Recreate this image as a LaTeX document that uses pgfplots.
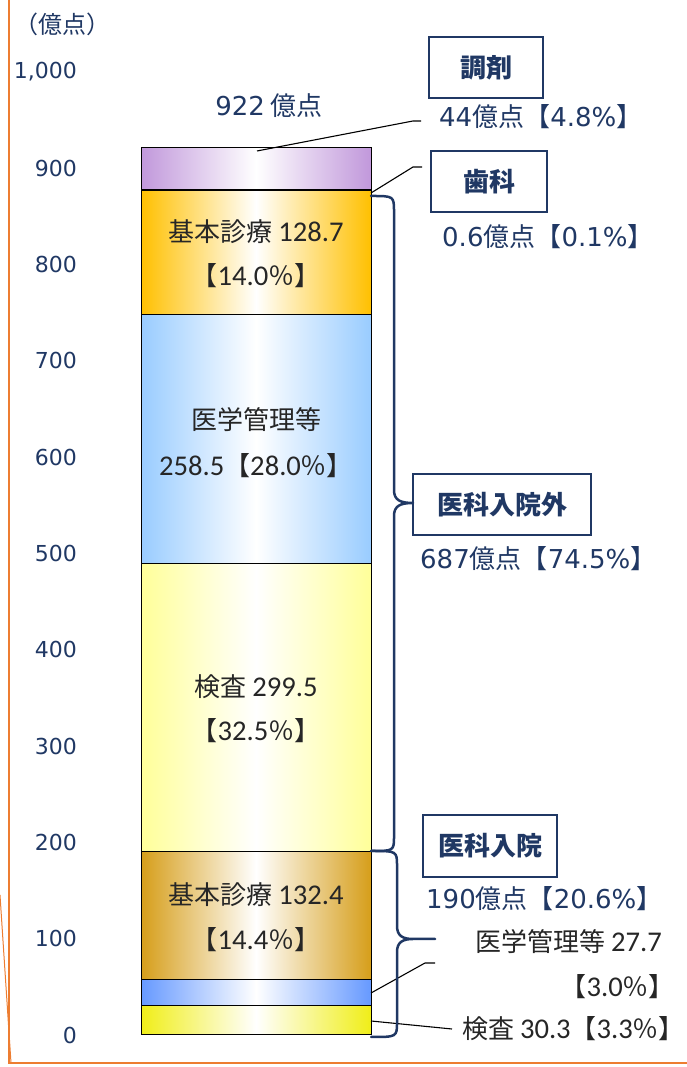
\documentclass[border=0pt]{standalone}
\usepackage{fontspec}
\setmainfont{Noto Sans CJK JP}
\newfontfamily\dv{DejaVu Sans}
\newfontfamily\cb{Carlito}[Scale=1.1]
\usepackage{pgfplots}
\pgfplotsset{compat=1.18}
\definecolor{navy}{RGB}{32,56,100}
\definecolor{frameor}{RGB}{237,125,49}
\definecolor{cPur}{RGB}{193,152,219}
\definecolor{cOrg}{RGB}{255,192,0}
\definecolor{cLBlue}{RGB}{153,204,255}
\definecolor{cLYel}{RGB}{255,255,153}
\definecolor{cBrown}{RGB}{214,158,26}
\definecolor{cBlue}{RGB}{102,153,255}
\definecolor{cYel}{RGB}{240,238,24}
\definecolor{cDent}{RGB}{146,208,80}
\definecolor{seg}{RGB}{38,38,38}
\newcommand\tfs{\fontsize{22}{26}\selectfont}
\newcommand\afs{\fontsize{26}{30}\selectfont}
\begin{document}
\begin{tikzpicture}
\useasboundingbox (0,0) rectangle (687pt,1067pt);
\begin{axis}[at={(0,0)}, anchor=south west, scale only axis,
  width=687pt, height=1067pt,
  xmin=0, xmax=687, ymin=-33.23, ymax=1074.77,
  axis line style={draw=none}, tick style={draw=none},
  xtick=\empty, ytick={0,100,...,1000},
  /pgf/number format/assume math mode=true,
  /pgf/number format/1000 sep={,},
  yticklabel style={anchor=east, xshift=77pt, inner sep=0pt, text=navy, font=\dv\tfs},
  ybar stacked, bar width=230pt, clip=false]
\addplot[left color=cYel, right color=cYel, middle color=white, draw=black, line width=1pt] coordinates {(256,30.3)};
\addplot[left color=cBlue, right color=cBlue, middle color=white, draw=black, line width=1pt] coordinates {(256,27.7)};
\addplot[left color=cBrown, right color=cBrown, middle color=white, draw=black, line width=1pt] coordinates {(256,132.4)};
\addplot[left color=cLYel, right color=cLYel, middle color=white, draw=black, line width=1pt] coordinates {(256,299.5)};
\addplot[left color=cLBlue, right color=cLBlue, middle color=white, draw=black, line width=1pt] coordinates {(256,258.5)};
\addplot[left color=cOrg, right color=cOrg, middle color=white, draw=black, line width=1pt] coordinates {(256,128.7)};
\addplot[fill=cDent, draw=black, line width=1pt] coordinates {(256,0.6)};
\addplot[left color=cPur, right color=cPur, middle color=white, draw=black, line width=1pt] coordinates {(256,44)};
\end{axis}
\begin{scope}[x=1pt, y=-1pt, shift={(0,1067pt)}]
% frame
\draw[frameor, line width=1.2pt] (9,0) -- (9,1063) -- (687,1063);
\draw[frameor, line width=1pt] (0,895) -- (11,1063);
% unit
\node[text=navy, font=\fontsize{24}{28}\selectfont] at (62,24) {（億点）};
% leaders
\draw[black, line width=1.1pt] (257,151) -- (413,121) -- (421,121);
\draw[black, line width=1.1pt] (371,193) -- (413,167) -- (422,167);
\draw[black, line width=1.1pt] (371,993) -- (425,963) -- (435,963);
\draw[black, line width=1.1pt] (371,1021) -- (452,1029);
% braces
\draw[navy, line width=2.5pt, line cap=round, line join=round]
  (371,196) .. controls (394,196) .. (394,212) -- (394,490)
  .. controls (394,500) and (400,503) .. (413,503)
  .. controls (400,503) and (394,506) .. (394,516) -- (394,836)
  .. controls (394,851) .. (371,851);
\draw[navy, line width=2.5pt, line cap=round, line join=round]
  (371,851) .. controls (397,851) .. (397,866) -- (397,926)
  .. controls (397,936) and (403,939) .. (413,939) -- (435,939)
  (413,939) .. controls (403,939) and (397,942) .. (397,952) -- (397,1022)
  .. controls (397,1037) .. (371,1037);
% boxes
\node[draw=navy, line width=1.5pt, minimum width=114pt, minimum height=61pt, text=navy, font=\afs\bfseries] at (486,67.5) {調剤};
\node[draw=navy, line width=1.5pt, minimum width=116pt, minimum height=61pt, text=navy, font=\afs\bfseries] at (489,181.5) {歯科};
\node[draw=navy, line width=1.5pt, minimum width=178pt, minimum height=61pt, text=navy, font=\afs\bfseries] at (502,504.5) {医科入院外};
\node[draw=navy, line width=1.5pt, minimum width=134pt, minimum height=62pt, text=navy, font=\afs\bfseries] at (490,846) {医科入院};
% navy annotations
\node[text=navy, font=\afs] at (269,106) {{\dv 922} 億点};
\node[text=navy, font=\afs, anchor=west, inner sep=0pt] at (439,117) {{\dv 44}億点【{\dv 4.8\%}】};
\node[text=navy, font=\afs, anchor=west, inner sep=0pt] at (442,237) {{\dv 0.6}億点【{\dv 0.1\%}】};
\node[text=navy, font=\afs, anchor=west, inner sep=0pt] at (420,559) {{\dv 687}億点【{\dv 74.5\%}】};
\node[text=navy, font=\afs, anchor=west, inner sep=0pt] at (426,899) {{\dv 190}億点【{\dv 20.6\%}】};
% segment labels
\begin{scope}[every node/.style={text=seg, font=\afs}]
\node at (256,232) {基本診療 {\cb 128.7}};
\node at (256,276) {【{\cb 14.0}％】};
\node at (256,420) {医学管理等};
\node at (256,466) {{\cb 258.5}【{\cb 28.0}％】};
\node at (256,687) {検査 {\cb 299.5}};
\node at (256,731) {【{\cb 32.5}％】};
\node at (256,895) {基本診療 {\cb 132.4}};
\node at (256,940) {【{\cb 14.4}％】};
\node[anchor=east, inner sep=0pt] at (662,942) {医学管理等 {\cb 27.7}};
\node[anchor=east, inner sep=0pt] at (675,987) {【{\cb 3.0}％】};
\node[anchor=west, inner sep=0pt] at (462,1029) {検査 {\cb 30.3}【{\cb 3.3}％】};
\end{scope}
\end{scope}
\end{tikzpicture}
\end{document}
